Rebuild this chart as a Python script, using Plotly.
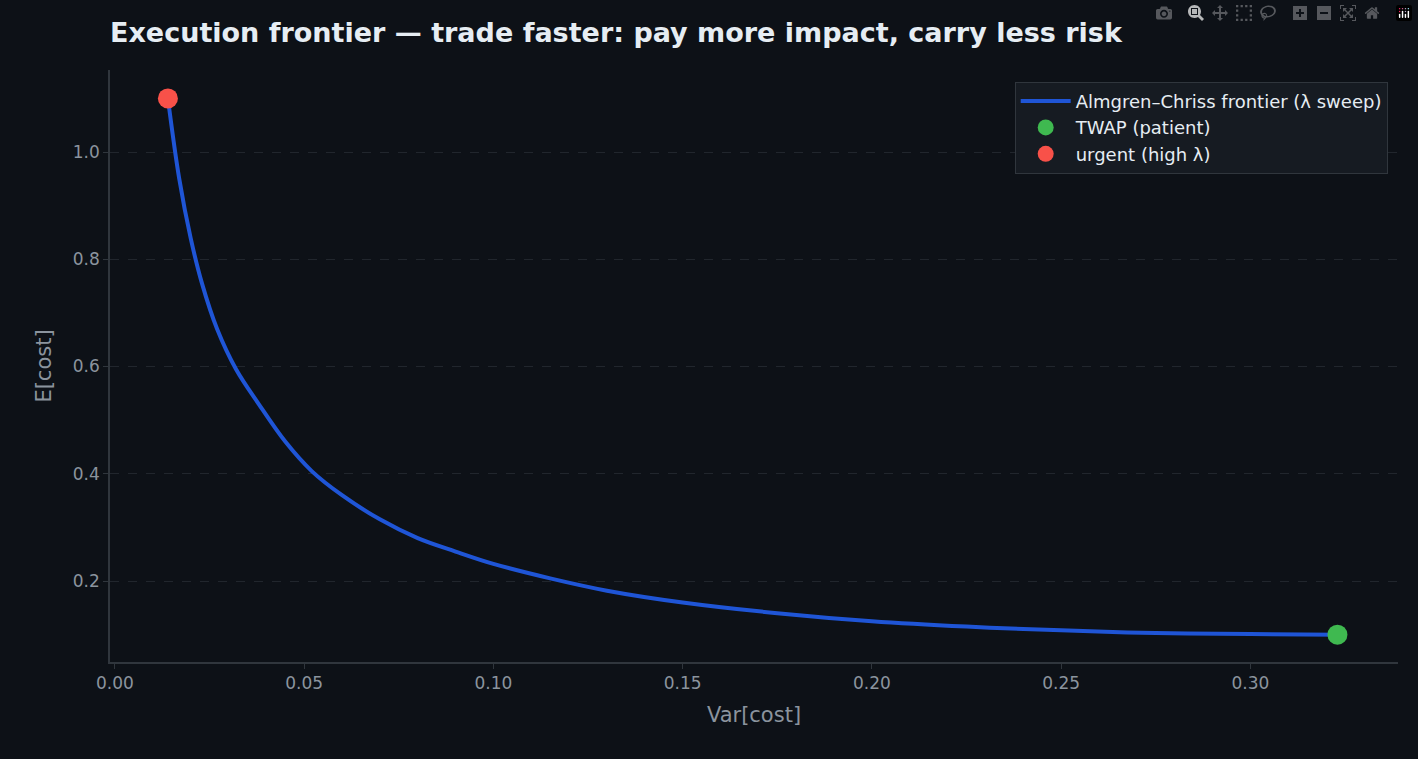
import plotly.graph_objects as go

# frontier points
var_cost = [0.014, 0.017, 0.020, 0.023, 0.027, 0.032, 0.038, 0.045, 0.052, 0.060,
            0.070, 0.080, 0.090, 0.100, 0.115, 0.130, 0.150, 0.175, 0.200, 0.225,
            0.250, 0.275, 0.300, 0.323]
exp_cost = [1.10, 0.95, 0.84, 0.755, 0.67, 0.595, 0.53, 0.46, 0.405, 0.36,
            0.315, 0.28, 0.255, 0.232, 0.205, 0.182, 0.16, 0.14, 0.125, 0.115,
            0.108, 0.103, 0.101, 0.100]
twap = (0.323, 0.100)
urgent = (0.014, 1.10)

bg = "#0d1117"
fig = go.Figure()
fig.add_trace(go.Scatter(x=var_cost, y=exp_cost, mode="lines", line_shape="spline",
                         line=dict(color="#1f55d6", width=4, smoothing=1.0),
                         name="Almgren–Chriss frontier (λ sweep)"))
fig.add_trace(go.Scatter(x=[twap[0]], y=[twap[1]], mode="markers",
                         marker=dict(color="#3fb950", size=20), name="TWAP (patient)"))
fig.add_trace(go.Scatter(x=[urgent[0]], y=[urgent[1]], mode="markers",
                         marker=dict(color="#f85149", size=20), name="urgent (high λ)"))

fig.update_layout(
    width=1418, height=759,
    paper_bgcolor=bg, plot_bgcolor=bg,
    margin=dict(l=110, r=20, t=70, b=97),
    font=dict(family="DejaVu Sans", color="#8b949e", size=17),
    title=dict(text="<b>Execution frontier — trade faster: pay more impact, carry less risk</b>",
               x=110 / 1418, xanchor="left", y=0.957, yanchor="middle",
               font=dict(size=27, color="#e6edf3")),
    legend=dict(x=0.992, y=0.98, xanchor="right", yanchor="top",
                bgcolor="#161b22", bordercolor="#30363d", borderwidth=1,
                itemwidth=50, tracegroupgap=0,
                font=dict(color="#e6edf3", size=18)),
    showlegend=True,
)
fig.update_xaxes(range=[-0.0013, 0.339], tickvals=[0, 0.05, 0.1, 0.15, 0.2, 0.25, 0.3],
                 tickformat=".2f", showgrid=False, zeroline=False,
                 showline=True, linecolor="#30363d", linewidth=1.5,
                 ticks="outside", tickcolor="#30363d", ticklen=5,
                 title=dict(text="Var[cost]", font=dict(size=21)))
fig.update_yaxes(range=[0.049, 1.153], tickvals=[0.2, 0.4, 0.6, 0.8, 1.0],
                 tickformat=".1f", showgrid=True, gridcolor="#21262d", griddash="dash",
                 zeroline=False, showline=True, linecolor="#30363d", linewidth=1.5,
                 ticks="outside", tickcolor="#30363d", ticklen=5,
                 title=dict(text="E[cost]", font=dict(size=21)))

fig.write_html("out.html",
               post_script="document.body.style.margin='0';document.body.style.background='#0d1117';")
